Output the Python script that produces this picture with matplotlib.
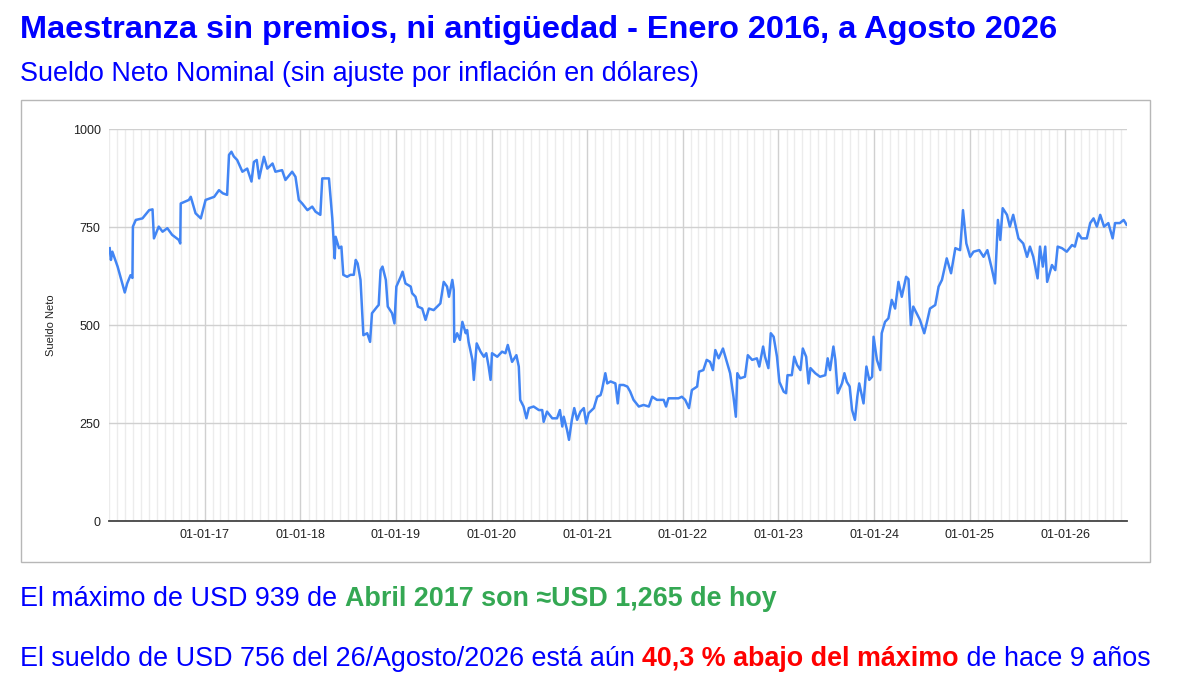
import numpy as np
import pandas as pd
import matplotlib
matplotlib.use('Agg')
import matplotlib.pyplot as plt
import matplotlib.dates as mdates
from matplotlib.patches import Rectangle

plt.rcParams['font.family'] = ['Liberation Sans', 'DejaVu Sans']

# fecha en años decimales, sueldo neto en USD
anio = [2016.007, 2016.02, 2016.035, 2016.09, 2016.12, 2016.165, 2016.19, 2016.225, 2016.245, 2016.25,
        2016.28, 2016.35, 2016.42, 2016.455, 2016.47, 2016.52, 2016.56, 2016.61, 2016.66, 2016.73,
        2016.745, 2016.75, 2016.835, 2016.855, 2016.905, 2016.96, 2017.01, 2017.10, 2017.15, 2017.19,
        2017.235, 2017.255, 2017.28, 2017.305, 2017.34, 2017.395, 2017.445, 2017.49, 2017.515, 2017.545,
        2017.57, 2017.62, 2017.655, 2017.71, 2017.74, 2017.81, 2017.845, 2017.915, 2017.95, 2017.985,
        2018.02, 2018.075, 2018.125, 2018.16, 2018.21, 2018.23, 2018.30, 2018.335, 2018.36, 2018.37,
        2018.405, 2018.43, 2018.45, 2018.49, 2018.525, 2018.56, 2018.58, 2018.60, 2018.63, 2018.66,
        2018.70, 2018.73, 2018.75, 2018.805, 2018.82, 2018.84, 2018.86, 2018.895, 2018.915, 2018.96,
        2018.985, 2019.005, 2019.05, 2019.07, 2019.10, 2019.155, 2019.17, 2019.205, 2019.23, 2019.275,
        2019.31, 2019.345, 2019.395, 2019.465, 2019.50, 2019.535, 2019.555, 2019.59, 2019.605, 2019.61,
        2019.64, 2019.67, 2019.695, 2019.73, 2019.745, 2019.76, 2019.80, 2019.815, 2019.845, 2019.885,
        2019.92, 2019.945, 2019.97, 2019.99, 2020.005, 2020.06, 2020.11, 2020.145, 2020.17, 2020.215,
        2020.26, 2020.285, 2020.30, 2020.335, 2020.365, 2020.39, 2020.44, 2020.495, 2020.53, 2020.545,
        2020.58, 2020.635, 2020.685, 2020.715, 2020.74, 2020.755, 2020.79, 2020.81, 2020.84, 2020.865,
        2020.895, 2020.93, 2020.965, 2020.99, 2021.015, 2021.07, 2021.105, 2021.14, 2021.155, 2021.19,
        2021.21, 2021.245, 2021.295, 2021.32, 2021.34, 2021.38, 2021.42, 2021.45, 2021.485, 2021.54,
        2021.59, 2021.645, 2021.68, 2021.73, 2021.80, 2021.825, 2021.85, 2021.905, 2021.955, 2021.99,
        2022.025, 2022.065, 2022.095, 2022.15, 2022.17, 2022.215, 2022.25, 2022.285, 2022.315, 2022.34,
        2022.375, 2022.42, 2022.445, 2022.495, 2022.53, 2022.555, 2022.57, 2022.60, 2022.65, 2022.68,
        2022.725, 2022.775, 2022.80, 2022.84, 2022.86, 2022.895, 2022.92, 2022.95, 2022.985, 2023.01,
        2023.055, 2023.08, 2023.095, 2023.14, 2023.165, 2023.195, 2023.23, 2023.255, 2023.29, 2023.315,
        2023.335, 2023.385, 2023.435, 2023.49, 2023.515, 2023.54, 2023.575, 2023.595, 2023.62, 2023.665,
        2023.69, 2023.715, 2023.745, 2023.77, 2023.80, 2023.825, 2023.845, 2023.89, 2023.92, 2023.95,
        2023.98, 2023.995, 2024.03, 2024.065, 2024.08, 2024.115, 2024.15, 2024.185, 2024.22, 2024.255,
        2024.29, 2024.335, 2024.36, 2024.385, 2024.41, 2024.445, 2024.48, 2024.525, 2024.55, 2024.585,
        2024.64, 2024.675, 2024.71, 2024.76, 2024.805, 2024.85, 2024.90, 2024.93, 2024.965, 2025.005,
        2025.04, 2025.10, 2025.145, 2025.185, 2025.23, 2025.265, 2025.295, 2025.32, 2025.345, 2025.39,
        2025.42, 2025.455, 2025.51, 2025.56, 2025.60, 2025.63, 2025.665, 2025.71, 2025.735, 2025.765,
        2025.79, 2025.81, 2025.86, 2025.895, 2025.92, 2025.965, 2026.015, 2026.07, 2026.10, 2026.135,
        2026.17, 2026.225, 2026.26, 2026.295, 2026.33, 2026.365, 2026.405, 2026.45, 2026.495, 2026.52,
        2026.57, 2026.61, 2026.64]

sueldo = [696, 666, 687, 649, 623, 583, 606, 627, 620, 751,
          768, 772, 793, 795, 721, 751, 738, 747, 730, 717,
          708, 810, 819, 827, 785, 772, 819, 827, 844, 836,
          832, 934, 942, 930, 921, 891, 899, 866, 916, 921,
          874, 929, 899, 912, 891, 895, 870, 891, 878, 819,
          810, 793, 802, 789, 781, 874, 874, 772, 670, 725,
          696, 700, 628, 623, 628, 628, 666, 657, 615, 474,
          479, 457, 530, 547, 551, 640, 649, 615, 547, 530,
          504, 598, 623, 636, 606, 598, 581, 572, 547, 542,
          513, 542, 538, 555, 610, 598, 572, 615, 589, 457,
          479, 462, 508, 479, 487, 457, 411, 360, 453, 432,
          419, 428, 394, 360, 428, 419, 432, 428, 449, 406,
          423, 394, 309, 292, 262, 288, 292, 283, 283, 253,
          279, 262, 262, 283, 241, 266, 232, 207, 258, 288,
          258, 279, 288, 249, 275, 288, 317, 321, 334, 377,
          351, 356, 351, 300, 347, 347, 343, 330, 309, 292,
          296, 292, 317, 309, 309, 292, 313, 313, 313, 317,
          309, 288, 334, 343, 381, 385, 411, 406, 385, 436,
          415, 440, 419, 377, 317, 266, 377, 364, 368, 423,
          411, 415, 394, 445, 419, 390, 479, 470, 419, 355,
          330, 326, 372, 372, 419, 398, 385, 440, 419, 351,
          390, 377, 368, 372, 415, 385, 445, 411, 326, 351,
          377, 355, 343, 283, 258, 317, 351, 300, 394, 360,
          368, 470, 411, 385, 479, 508, 517, 564, 542, 610,
          572, 623, 617, 500, 547, 530, 513, 479, 504, 542,
          551, 598, 615, 670, 632, 696, 691, 793, 708, 674,
          687, 691, 674, 691, 645, 606, 768, 717, 798, 781,
          751, 781, 721, 708, 674, 700, 674, 619, 700, 649,
          700, 610, 653, 640, 700, 696, 687, 704, 700, 734,
          721, 721, 760, 772, 751, 781, 751, 760, 721, 760,
          760, 768, 756]

anios_eje = list(range(2017, 2027))
yticks = [0, 250, 500, 750, 1000]

titulo = 'Maestranza sin premios, ni antigüedad - Enero 2016, a Agosto 2026'
subtitulo = 'Sueldo Neto Nominal (sin ajuste por inflación en dólares)'

azul = '#0000ff'
verde = '#34a853'
rojo = '#ff0000'

inicio = pd.Timestamp('2016-01-01')
fechas = [inicio + pd.Timedelta(days=(a - 2016) * 365.25) for a in anio]

W, H = 1200, 687
fig = plt.figure(figsize=(W / 100, H / 100), dpi=100)

# marco gris del gráfico
fig.patches.append(Rectangle((21 / W, 1 - 562 / H), 1129 / W, 462 / H,
                             transform=fig.transFigure, fill=False,
                             ec='#b7b7b7', lw=1))

ax = fig.add_axes([109 / W, 1 - 521 / H, 1018 / W, 392 / H])
ax.plot(fechas, sueldo, color='#4285f4', lw=1.8, zorder=3)

ax.set_ylim(0, 1000)
ax.set_yticks(yticks)
ax.set_xlim(inicio, inicio + pd.Timedelta(days=10.645 * 365.25))
ax.set_xticks([pd.Timestamp(f'{a}-01-01') for a in anios_eje])
ax.xaxis.set_major_formatter(mdates.DateFormatter('%d-%m-%y'))
ax.xaxis.set_minor_locator(mdates.MonthLocator())

ax.grid(which='minor', axis='x', color='#ececec', lw=1)
ax.grid(which='major', axis='x', color='#d0d0d0', lw=1)
ax.grid(which='major', axis='y', color='#d0d0d0', lw=1)
ax.set_axisbelow(True)

for lado in ['top', 'right', 'left']:
    ax.spines[lado].set_visible(False)
ax.spines['bottom'].set_color('#444444')
ax.spines['bottom'].set_linewidth(1.3)

ax.tick_params(which='both', length=0)
ax.tick_params(axis='y', labelsize=9, colors='#222222', pad=6)
ax.tick_params(axis='x', labelsize=9, colors='#222222', pad=6)

ax.set_ylabel('Sueldo Neto', fontsize=8, color='#222222')
ax.yaxis.set_label_coords((56 - 109) / 1018, 0.5)

fig.text(20 / W, 1 - 38 / H, titulo, fontsize=23.4, fontweight='bold',
         color=azul, va='baseline')
fig.text(20 / W, 1 - 81 / H, subtitulo, fontsize=19.4, color=azul, va='baseline')

renderer = fig.canvas.get_renderer()


def ancho(texto, **kw):
    t = fig.text(0, 0, texto, **kw)
    w = t.get_window_extent(renderer).width / W
    t.remove()
    return w


def linea(y, partes, size=19.4):
    # tramos de distintos colores, uno detrás del otro sobre la misma base
    x = 20 / W
    for texto, color, peso in partes:
        fig.text(x, 1 - y / H, texto, fontsize=size, color=color,
                 fontweight=peso, va='baseline')
        x += ancho(texto + '|', fontsize=size, fontweight=peso) - \
            ancho('|', fontsize=size, fontweight=peso)


linea(606, [('El máximo de USD 939 de ', azul, 'normal'),
            ('Abril 2017 son ≈USD 1,265 de hoy', verde, 'bold')])
linea(666, [('El sueldo de USD 756 del 26/Agosto/2026 está aún ', azul, 'normal'),
            ('40,3 % abajo del máximo', rojo, 'bold'),
            (' de hace 9 años', azul, 'normal')])

fig.savefig('out.png', dpi=100)
